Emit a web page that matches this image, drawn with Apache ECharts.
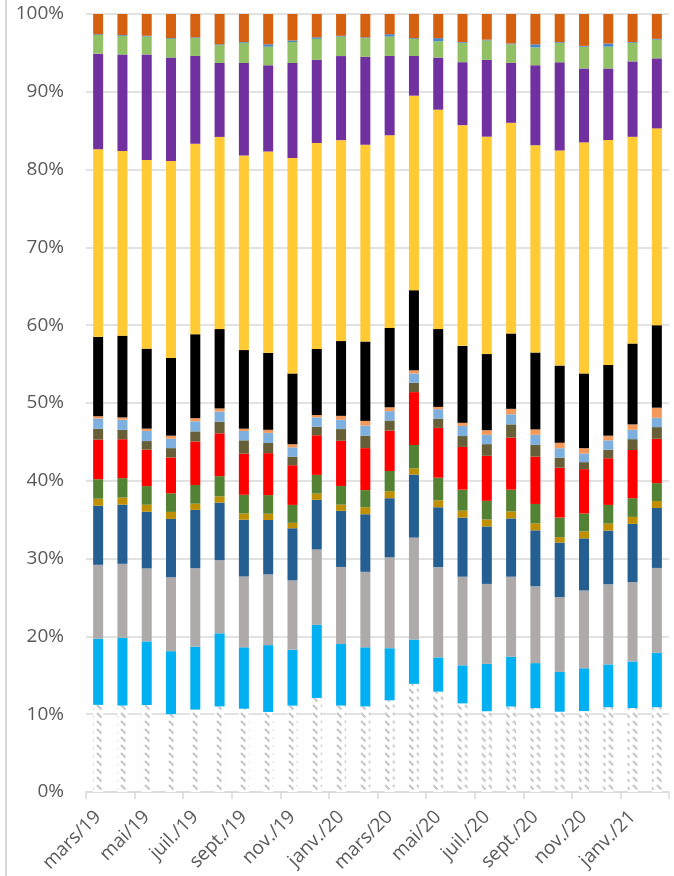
<!DOCTYPE html>
<html>
<head>
<meta charset="utf-8">
<script src="https://cdn.jsdelivr.net/npm/echarts@6/dist/echarts.min.js"></script>
<style>
html,body{margin:0;padding:0;background:#fff;}
#c{width:674px;height:876px;}
</style>
</head>
<body>
<div id="c"></div>
<script>
const categories = ['mars/19','avr./19','mai/19','juin/19','juil./19','août/19','sept./19','oct./19','nov./19','déc./19','janv./20','févr./20','mars/20','avr./20','mai/20','juin/20','juil./20','août/20','sept./20','oct./20','nov./20','déc./20','janv./21','févr./21'];

const hatched   = [11.2,11.1,11.2,10.0,10.6,11.0,10.7,10.3,11.1,12.1,11.1,11.0,11.8,13.9,12.9,11.4,10.4,11.0,10.8,10.3,10.4,10.9,10.8,10.9];
const cyan      = [8.5,8.7,8.2,8.1,8.1,9.4,7.9,8.6,7.2,9.4,7.9,7.6,6.7,5.7,4.4,4.9,6.1,6.4,5.8,5.1,5.5,5.5,6.0,7.0];
const grey      = [9.5,9.5,9.4,9.5,10.1,9.4,9.1,9.1,8.9,9.7,9.9,9.7,11.7,13.1,11.6,11.4,10.3,10.3,9.9,9.6,10.0,10.3,10.2,10.9];
const darkBlue  = [7.6,7.6,7.3,7.5,7.5,7.4,7.3,7.0,6.7,6.4,7.2,7.4,7.6,8.1,7.7,7.6,7.4,7.5,7.2,7.0,6.7,6.9,7.5,7.7];
const gold      = [0.9,0.9,0.9,0.9,0.8,0.8,0.8,0.8,0.7,0.8,0.8,0.9,0.9,0.8,0.9,0.9,0.9,0.9,0.9,0.7,0.9,0.9,0.9,0.9];
const green     = [2.5,2.5,2.4,2.4,2.4,2.6,2.4,2.4,2.3,2.4,2.4,2.2,2.6,3.0,2.9,2.7,2.4,2.8,2.5,2.5,2.3,2.4,2.4,2.3];
const red       = [5.1,5.0,4.7,4.6,5.6,5.5,5.3,5.4,5.1,5.1,5.8,5.4,5.2,6.8,6.4,5.5,5.8,6.7,6.1,6.4,5.7,6.0,6.2,5.7];
const olive     = [1.4,1.2,1.1,1.2,1.3,1.5,1.7,1.3,1.1,1.1,1.5,1.6,1.3,1.2,1.2,1.4,1.5,1.7,1.5,1.3,0.9,1.1,1.4,1.5];
const lightBlue = [1.3,1.3,1.3,1.2,1.3,1.3,1.2,1.3,1.2,1.2,1.2,1.3,1.2,1.2,1.2,1.3,1.2,1.3,1.3,1.2,1.1,1.2,1.2,1.2];
const salmon    = [0.3,0.3,0.3,0.4,0.4,0.4,0.3,0.4,0.4,0.3,0.5,0.6,0.5,0.4,0.3,0.4,0.6,0.7,0.7,0.7,0.7,0.6,0.7,1.3];
const black     = [10.2,10.5,10.3,10.0,10.8,10.2,10.1,9.9,9.1,8.5,9.6,10.2,10.2,10.3,10.0,9.9,9.8,9.7,9.9,9.9,9.6,9.1,10.4,10.6];
const yellow    = [24.1,23.7,24.3,25.3,24.5,24.7,25.0,25.9,27.7,26.5,25.8,25.3,24.8,25.0,28.2,28.4,28.0,27.1,26.7,27.6,29.7,28.9,26.6,25.3];
const purple    = [12.3,12.4,13.6,13.3,11.3,9.5,11.9,11.1,12.2,10.7,10.8,11.3,10.2,5.1,6.7,8.1,9.9,7.7,10.3,11.3,9.5,9.2,9.7,9.0];
const lightGreen= [2.4,2.4,2.3,2.4,2.3,2.3,2.6,2.4,2.7,2.7,2.5,2.4,2.5,2.2,2.1,2.5,2.5,2.4,2.3,2.5,2.8,2.8,2.4,2.4];
const thinBlue  = [0.1,0.1,0.1,0.1,0.1,0.1,0.1,0.3,0.2,0.2,0.1,0.1,0.3,0.1,0.4,0.1,0.1,0.1,0.4,0.1,0.1,0.4,0.1,0.1];
const orange    = [2.6,2.7,2.8,3.1,3.0,3.9,3.6,3.9,3.4,3.0,2.8,3.0,2.6,3.1,3.1,3.6,3.3,3.8,3.9,3.6,4.1,3.8,3.6,3.2];
const yTicks = [0,10,20,30,40,50,60,70,80,90,100];

// hatch pattern
const pc = document.createElement('canvas');
pc.width = 8; pc.height = 8;
const g = pc.getContext('2d');
g.fillStyle = '#ffffff'; g.fillRect(0,0,8,8);
g.strokeStyle = '#c9c9c9'; g.lineWidth = 2.4; g.lineCap = 'butt';
g.beginPath(); g.moveTo(1,1); g.lineTo(5.5,5.5); g.stroke();

const layers = [
  ['hatched', hatched, {image: pc, repeat: 'repeat'}],
  ['cyan', cyan, '#00B0F0'],
  ['grey', grey, '#AEAAAA'],
  ['darkBlue', darkBlue, '#255E91'],
  ['gold', gold, '#BF8F00'],
  ['green', green, '#548235'],
  ['red', red, '#FF0000'],
  ['olive', olive, '#665F37'],
  ['lightBlue', lightBlue, '#7DB0DF'],
  ['salmon', salmon, '#F4995B'],
  ['black', black, '#000000'],
  ['yellow', yellow, '#FFCA33'],
  ['purple', purple, '#7030A0'],
  ['lightGreen', lightGreen, '#92C065'],
  ['thinBlue', thinBlue, '#4A85C5'],
  ['orange', orange, '#D5600F']
];

// normalize to 100% per category
const totals = categories.map((_, i) => layers.reduce((s, l) => s + l[1][i], 0));

const series = layers.map(([name, arr, color]) => ({
  name: name,
  type: 'bar',
  stack: 'all',
  barWidth: 10,
  data: arr.map((v, i) => v / totals[i] * 100),
  itemStyle: {color: color},
  emphasis: {disabled: true},
  silent: true
}));

const chart = echarts.init(document.getElementById('c'), null, {renderer: 'canvas'});
chart.setOption({
  animation: false,
  backgroundColor: '#ffffff',
  grid: {left: 86, right: 5, top: 14, bottom: 84, containLabel: false, outerBoundsMode: 'none'},
  graphic: [{type: 'rect', shape: {x: 5, y: 0, width: 2, height: 876}, style: {fill: '#D9D9D9'}, silent: true}],
  xAxis: {
    type: 'category',
    data: categories,
    axisLine: {lineStyle: {color: '#D9D9D9', width: 1.5}},
    axisTick: {show: true, interval: 1, length: 7, lineStyle: {color: '#D9D9D9', width: 1.5}},
    axisLabel: {interval: 1, rotate: 45, fontSize: 19, color: '#595959', fontFamily: 'Open Sans', margin: 22}
  },
  yAxis: {
    type: 'value',
    min: 0, max: 100, interval: 10,
    axisLine: {show: false},
    axisTick: {show: false},
    splitLine: {lineStyle: {color: '#D9D9D9', width: 1.5}},
    axisLabel: {formatter: v => yTicks.includes(v) ? v + '%' : '', fontSize: 19, color: '#595959', fontFamily: 'Open Sans', margin: 22}
  },
  series: series
});
</script>
</body>
</html>
